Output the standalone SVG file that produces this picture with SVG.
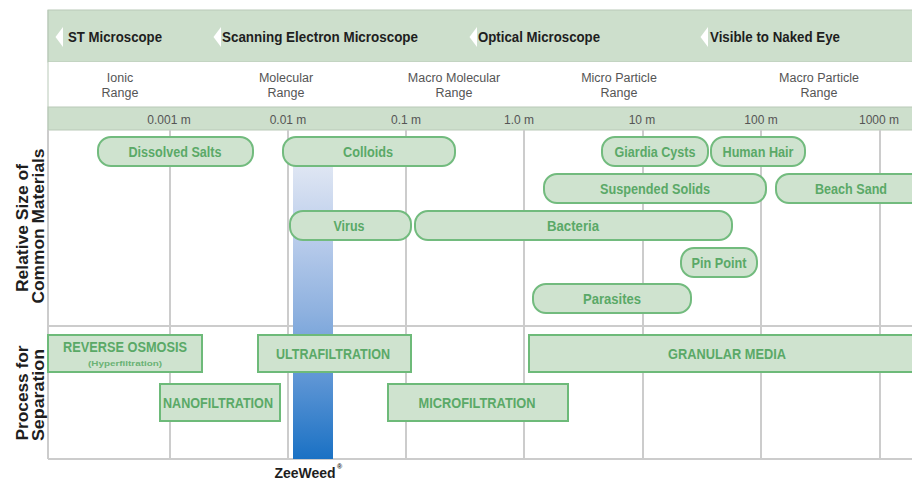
<svg xmlns="http://www.w3.org/2000/svg" width="912" height="483" viewBox="0 0 912 483">
  <defs>
    <linearGradient id="zw" x1="0" y1="0" x2="0" y2="1">
      <stop offset="0" stop-color="#dfe6f3"/>
      <stop offset="0.25" stop-color="#b9cceb"/>
      <stop offset="0.5" stop-color="#8eb1df"/>
      <stop offset="0.72" stop-color="#5f96d5"/>
      <stop offset="1" stop-color="#1a71c4"/>
    </linearGradient>
    <style>
      text { font-family: "Liberation Sans", Arial, sans-serif; }
      .band { fill: #cddfcc; stroke: #b9c9b8; stroke-width: 1; }
      .hdr { font-size: 15px; font-weight: bold; fill: #1e1e1e; }
      .chev { fill: #ffffff; }
      .rng { font-size: 12.5px; fill: #555555; text-anchor: middle; }
      .scl { font-size: 12px; fill: #555555; text-anchor: middle; }
      .grid { stroke: #cccccc; stroke-width: 2; fill: none; }
      .pill { fill: #cfe3cf; stroke: #72bb7e; stroke-width: 2; }
      .box { fill: #cfe3cf; stroke: #6dba79; stroke-width: 2; }
      .lbl { font-size: 14px; font-weight: bold; fill: #5aa967; text-anchor: middle; }
      .sub { font-size: 8px; font-weight: bold; fill: #6ab274; text-anchor: middle; }
      .side { font-size: 16px; font-weight: bold; fill: #1e1e1e; text-anchor: middle; }
    </style>
  </defs>

  <rect width="912" height="483" fill="#ffffff"/>

  <!-- header bands -->
  <g id="header">
    <rect class="band" x="48" y="10" width="870" height="52"/>
    <rect x="48" y="62" width="870" height="45" fill="#ffffff"/>
    <rect class="band" x="48" y="107" width="870" height="23"/>
    <line x1="48" y1="10" x2="48" y2="130" stroke="#b9c9b8" stroke-width="1"/>
  </g>

  <g id="microscopes">
    <polygon class="chev" points="63,27 55.5,37 63,47"/>
    <text class="hdr" x="68" y="42" textLength="94" lengthAdjust="spacingAndGlyphs">ST Microscope</text>
    <polygon class="chev" points="221,27 213.5,37 221,47"/>
    <text class="hdr" x="222" y="42" textLength="196" lengthAdjust="spacingAndGlyphs">Scanning Electron Microscope</text>
    <polygon class="chev" points="477,27 469.5,37 477,47"/>
    <text class="hdr" x="478" y="42" textLength="122" lengthAdjust="spacingAndGlyphs">Optical Microscope</text>
    <polygon class="chev" points="708,27 700.5,37 708,47"/>
    <text class="hdr" x="710" y="42" textLength="130" lengthAdjust="spacingAndGlyphs">Visible to Naked Eye</text>
  </g>

  <g id="ranges">
    <text class="rng" x="120" y="82">Ionic</text>
    <text class="rng" x="120" y="97">Range</text>
    <text class="rng" x="286" y="82">Molecular</text>
    <text class="rng" x="286" y="97">Range</text>
    <text class="rng" x="454" y="82">Macro Molecular</text>
    <text class="rng" x="454" y="97">Range</text>
    <text class="rng" x="619" y="82">Micro Particle</text>
    <text class="rng" x="619" y="97">Range</text>
    <text class="rng" x="819" y="82">Macro Particle</text>
    <text class="rng" x="819" y="97">Range</text>
  </g>

  <g id="scale">
    <text class="scl" x="169" y="124">0.001 m</text>
    <text class="scl" x="288" y="124">0.01 m</text>
    <text class="scl" x="406" y="124">0.1 m</text>
    <text class="scl" x="519" y="124">1.0 m</text>
    <text class="scl" x="642" y="124">10 m</text>
    <text class="scl" x="761" y="124">100 m</text>
    <text class="scl" x="879" y="124">1000 m</text>
  </g>

  <!-- grid -->
  <g id="grid">
    <line class="grid" x1="48" y1="130" x2="48" y2="459"/>
    <line class="grid" x1="170" y1="130" x2="170" y2="459"/>
    <line class="grid" x1="288" y1="130" x2="288" y2="459"/>
    <line class="grid" x1="406" y1="130" x2="406" y2="459"/>
    <line class="grid" x1="524" y1="130" x2="524" y2="459"/>
    <line class="grid" x1="643" y1="130" x2="643" y2="459"/>
    <line class="grid" x1="761" y1="130" x2="761" y2="459"/>
    <line class="grid" x1="880" y1="130" x2="880" y2="459"/>
    <line class="grid" x1="48" y1="326" x2="912" y2="326"/>
    <line class="grid" x1="48" y1="459" x2="912" y2="459"/>
  </g>

  <!-- side labels -->
  <g id="side-materials">
    <text class="side" transform="translate(28,228) rotate(-90)" x="0" y="0" textLength="128" lengthAdjust="spacingAndGlyphs">Relative Size of</text>
    <text class="side" transform="translate(44,226) rotate(-90)" x="0" y="0" textLength="155" lengthAdjust="spacingAndGlyphs">Common Materials</text>
  </g>
  <g id="side-process">
    <text class="side" transform="translate(28,393) rotate(-90)" x="0" y="0" textLength="95" lengthAdjust="spacingAndGlyphs">Process for</text>
    <text class="side" transform="translate(44,395) rotate(-90)" x="0" y="0" textLength="92" lengthAdjust="spacingAndGlyphs">Separation</text>
  </g>

  <!-- ZeeWeed bar -->
  <g id="zeeweed">
    <rect x="293" y="166" width="40" height="293" fill="url(#zw)"/>
    <text x="305" y="478" font-size="14" font-weight="bold" fill="#1e1e1e" text-anchor="middle">ZeeWeed</text>
    <text x="337" y="469" font-size="7" font-weight="bold" fill="#1e1e1e">®</text>
  </g>

  <!-- materials -->
  <g id="dissolved-salts"><rect class="pill" x="98" y="137" width="155" height="29" rx="13"/><text class="lbl" x="175" y="156.5" textLength="93" lengthAdjust="spacingAndGlyphs">Dissolved Salts</text></g>
  <g id="colloids"><rect class="pill" x="283" y="137" width="172" height="29" rx="13"/><text class="lbl" x="368" y="156.5" textLength="50" lengthAdjust="spacingAndGlyphs">Colloids</text></g>
  <g id="giardia-cysts"><rect class="pill" x="602" y="137" width="106" height="29" rx="13"/><text class="lbl" x="655" y="156.5" textLength="81" lengthAdjust="spacingAndGlyphs">Giardia Cysts</text></g>
  <g id="human-hair"><rect class="pill" x="711" y="137" width="94" height="29" rx="13"/><text class="lbl" x="758" y="156.5" textLength="71" lengthAdjust="spacingAndGlyphs">Human Hair</text></g>
  <g id="suspended-solids"><rect class="pill" x="544" y="174" width="222" height="29" rx="13"/><text class="lbl" x="655" y="193.5" textLength="110" lengthAdjust="spacingAndGlyphs">Suspended Solids</text></g>
  <g id="beach-sand"><rect class="pill" x="776" y="174" width="150" height="29" rx="13"/><text class="lbl" x="851" y="193.5" textLength="72" lengthAdjust="spacingAndGlyphs">Beach Sand</text></g>
  <g id="virus"><rect class="pill" x="290" y="211" width="121" height="29" rx="13"/><text class="lbl" x="349" y="230.5" textLength="31" lengthAdjust="spacingAndGlyphs">Virus</text></g>
  <g id="bacteria"><rect class="pill" x="415" y="211" width="317" height="29" rx="13"/><text class="lbl" x="573" y="230.5" textLength="52" lengthAdjust="spacingAndGlyphs">Bacteria</text></g>
  <g id="pin-point"><rect class="pill" x="681" y="248" width="76" height="29" rx="13"/><text class="lbl" x="719" y="267.5" textLength="55" lengthAdjust="spacingAndGlyphs">Pin Point</text></g>
  <g id="parasites"><rect class="pill" x="533" y="284" width="158" height="29" rx="13"/><text class="lbl" x="612" y="303.5" textLength="58" lengthAdjust="spacingAndGlyphs">Parasites</text></g>

  <!-- processes -->
  <g id="reverse-osmosis"><rect class="box" x="48" y="335" width="154" height="37"/><text class="lbl" x="125" y="352" textLength="124" lengthAdjust="spacingAndGlyphs">REVERSE OSMOSIS</text><text class="sub" x="125" y="366" textLength="74" lengthAdjust="spacingAndGlyphs">(Hyperfiltration)</text></g>
  <g id="ultrafiltration"><rect class="box" x="258" y="335" width="153" height="37"/><text class="lbl" x="333" y="358.5" textLength="114" lengthAdjust="spacingAndGlyphs">ULTRAFILTRATION</text></g>
  <g id="granular-media"><rect class="box" x="529" y="335" width="396" height="37"/><text class="lbl" x="727" y="358.5" textLength="118" lengthAdjust="spacingAndGlyphs">GRANULAR MEDIA</text></g>
  <g id="nanofiltration"><rect class="box" x="160" y="384" width="120" height="37"/><text class="lbl" x="218" y="407.5" textLength="110" lengthAdjust="spacingAndGlyphs">NANOFILTRATION</text></g>
  <g id="microfiltration"><rect class="box" x="388" y="384" width="180" height="37"/><text class="lbl" x="477" y="407.5" textLength="117" lengthAdjust="spacingAndGlyphs">MICROFILTRATION</text></g>
</svg>
